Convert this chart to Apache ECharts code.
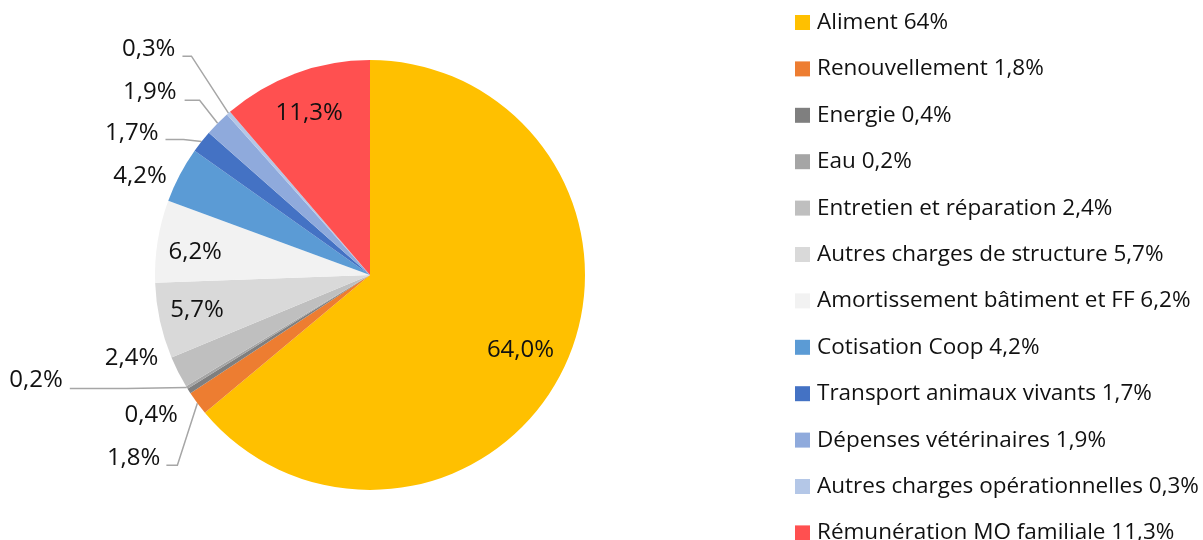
<!DOCTYPE html>
<html>
<head>
<meta charset="utf-8">
<script src="https://cdn.jsdelivr.net/npm/echarts@6/dist/echarts.min.js"></script>
<style>
    html, body { margin: 0; padding: 0; background: #fff; }
    #chart { width: 1203px; height: 540px; }
</style>
</head>
<body>
<div id="chart"></div>
<script>
// categories (legend text is part of the name, as in the source)
const categories = [
    'Aliment 64%',
    'Renouvellement 1,8%',
    'Energie 0,4%',
    'Eau 0,2%',
    'Entretien et réparation 2,4%',
    'Autres charges de structure 5,7%',
    'Amortissement bâtiment et FF 6,2%',
    'Cotisation Coop 4,2%',
    'Transport animaux vivants 1,7%',
    'Dépenses vétérinaires 1,9%',
    'Autres charges opérationnelles 0,3%',
    'Rémunération MO familiale 11,3%'
]
const values = [64.0, 1.8, 0.4, 0.2, 2.4, 5.7, 6.2, 4.2, 1.7, 1.9, 0.3, 11.3]
const colors = ['#FFC000', '#ED7D31', '#7F7F7F', '#A5A5A5', '#BFBFBF', '#D9D9D9',
    '#F2F2F2', '#5B9BD5', '#4472C4', '#8FAADC', '#B4C7E7', '#FF5050']

// which slices carry their label inside
const insideIdx = [0, 5, 6, 11]

// outside label placement: offsets from the slice edge anchor (px)
const outsidePlace = {
    1: { line: [[-20, 62], [-31, 62]], text: [-6, -7] },
    2: { text: [-11, 24] },
    3: { line: [[-60, 1], [-117, 1]], text: [-7, -8] },
    4: { text: [-20, -14] },
    7: { text: [-13, 1] },
    8: { line: [[-18, -2], [-36, -2]], text: [-7, -6] },
    9: { line: [[-18, -23], [-33, -23]], text: [-8, -8] },
    10: { line: [[-37, -57], [-46, -57]], text: [-7, -7] }
}
// small nudges for inside labels
const insideNudge = { 0: [-8, 1], 5: [-2, -2], 6: [-2, 5], 11: [0, 2] }

const FONT = '"Open Sans", "Noto Sans", sans-serif'
const fmt = v => v.toFixed(1).replace('.', ',') + '%'

const chart = echarts.init(document.getElementById('chart'), null, { renderer: 'canvas' })

const option = {
    animation: false,
    color: colors,
    legend: {
        orient: 'vertical',
        left: 795,
        top: 11,
        height: 600,
        padding: 0,
        itemWidth: 15,
        itemHeight: 15,
        itemGap: 23.4,
        icon: 'rect',
        data: categories,
        textStyle: {
            fontFamily: FONT,
            fontSize: 22.5,
            lineHeight: 22,
            color: '#111',
            padding: [0, 0, 0, 2]
        }
    },
    series: [
        {
            // the slices, with the outside labels
            type: 'pie',
            center: [370, 275],
            radius: 215,
            startAngle: 90,
            avoidLabelOverlap: false,
            data: categories.map((name, i) => ({
                name: name,
                value: values[i],
                label: { show: !insideIdx.includes(i) },
                labelLine: { show: !insideIdx.includes(i) }
            })),
            label: {
                position: 'outside',
                formatter: p => fmt(p.value),
                fontFamily: FONT,
                fontSize: 24,
                color: '#111'
            },
            labelLine: {
                length: 0,
                length2: 0,
                lineStyle: { color: '#A6A6A6', width: 1.5 }
            },
            labelLayout: params => {
                const cfg = outsidePlace[params.dataIndex]
                const pts = params.labelLinePoints
                if (!cfg || !pts) return {}
                const a = pts[0]
                if (cfg.line) {
                    const mid = [a[0] + cfg.line[0][0], a[1] + cfg.line[0][1]]
                    const end = [a[0] + cfg.line[1][0], a[1] + cfg.line[1][1]]
                    return {
                        x: end[0] + cfg.text[0],
                        y: end[1] + cfg.text[1],
                        labelLinePoints: [a, mid, end]
                    }
                }
                return {
                    x: a[0] + cfg.text[0],
                    y: a[1] + cfg.text[1],
                    labelLinePoints: [a, a, a]
                }
            },
            itemStyle: { borderWidth: 0 },
            emphasis: { disabled: true }
        },
        {
            // transparent overlay ring only used to place the inside labels
            type: 'pie',
            center: [370, 275],
            radius: [129, 215],
            startAngle: 90,
            silent: true,
            legendHoverLink: false,
            data: categories.map((name, i) => ({
                name: name,
                value: values[i],
                label: { show: insideIdx.includes(i) }
            })),
            itemStyle: { color: 'rgba(0,0,0,0)' },
            label: {
                position: 'inside',
                formatter: p => fmt(p.value),
                fontFamily: FONT,
                fontSize: 24,
                color: '#111'
            },
            labelLine: { show: false },
            labelLayout: params => {
                const n = insideNudge[params.dataIndex]
                return n ? { dx: n[0], dy: n[1] } : {}
            }
        }
    ]
}

chart.setOption(option)
</script>
</body>
</html>
